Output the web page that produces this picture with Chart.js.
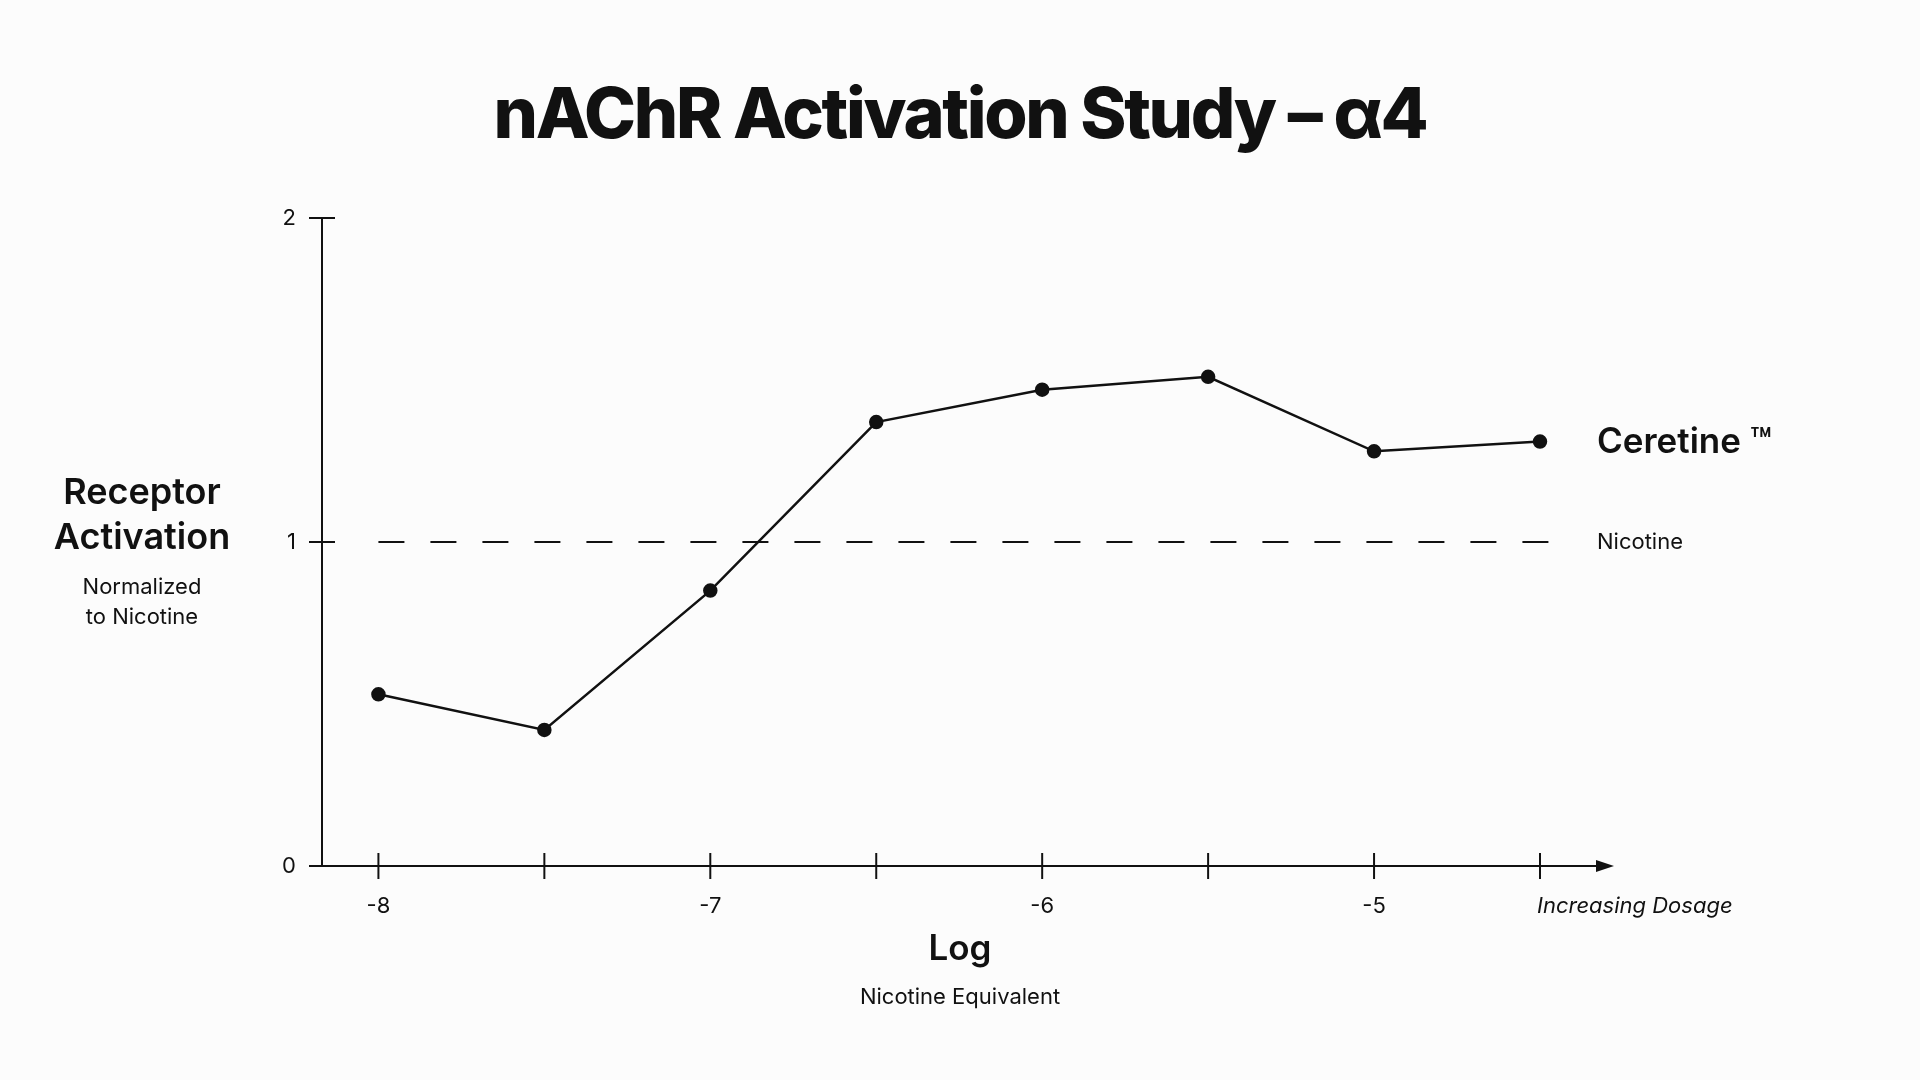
<!DOCTYPE html>
<html>
<head>
<meta charset="utf-8">
<script src="https://cdn.jsdelivr.net/npm/chart.js@4"></script>
<style>
  html, body { margin: 0; padding: 0; background: #fcfcfc; }
  #wrap { width: 1920px; height: 1080px; }
</style>
</head>
<body>
<div id="wrap"><canvas id="activationChart" width="1920" height="1080"></canvas></div>
<script>
// log dose positions and normalized activation for Ceretine
const doses = [-8, -7.5, -7, -6.5, -6, -5.5, -5, -4.5];
const ceretine = [0.53, 0.42, 0.85, 1.37, 1.47, 1.51, 1.28, 1.31];
const nicotineLevel = [1, 1];
const nicotineRange = [-8, -4.47];
const xTickValues = [-8, -7.5, -7, -6.5, -6, -5.5, -5, -4.5];
const xTickLabels = ["-8", "", "-7", "", "-6", "", "-5", ""];
const yTickValues = [0, 1, 2];
const yTickLabels = ["0", "1", "2"];

const ink = "#111111";
const fontName = "Inter, 'Noto Sans', sans-serif";

const axesPlugin = {
    id: "axesPlugin",
    afterDraw(chart) {
        const ctx = chart.ctx;
        const xs = chart.scales.x;
        const ys = chart.scales.y;
        const area = chart.chartArea;
        ctx.save();
        ctx.strokeStyle = ink;
        ctx.fillStyle = ink;
        ctx.lineWidth = 2;

        // y axis
        ctx.beginPath();
        ctx.moveTo(area.left, ys.getPixelForValue(2));
        ctx.lineTo(area.left, ys.getPixelForValue(0));
        ctx.stroke();

        // x axis with arrow
        const y0 = ys.getPixelForValue(0);
        ctx.beginPath();
        ctx.moveTo(area.left - 13, y0);
        ctx.lineTo(area.right - 12, y0);
        ctx.stroke();
        ctx.beginPath();
        ctx.moveTo(area.right, y0);
        ctx.lineTo(area.right - 18, y0 - 6);
        ctx.lineTo(area.right - 18, y0 + 6);
        ctx.closePath();
        ctx.fill();

        // y ticks
        ctx.font = "22px " + fontName;
        ctx.textAlign = "right";
        ctx.textBaseline = "middle";
        yTickValues.forEach((v, i) => {
            const py = ys.getPixelForValue(v);
            ctx.beginPath();
            ctx.moveTo(area.left - 13, py);
            ctx.lineTo(area.left + 13, py);
            ctx.stroke();
            ctx.fillText(yTickLabels[i], area.left - 26, py);
        });

        // x ticks
        ctx.textAlign = "center";
        xTickValues.forEach((v, i) => {
            const px = xs.getPixelForValue(v);
            ctx.beginPath();
            ctx.moveTo(px, y0 - 13);
            ctx.lineTo(px, y0 + 13);
            ctx.stroke();
            if (xTickLabels[i]) ctx.fillText(xTickLabels[i], px, y0 + 40);
        });
        ctx.font = "italic 22px " + fontName;
        ctx.textAlign = "left";
        ctx.fillText("Increasing Dosage", 1537, y0 + 40);

        // title
        ctx.font = "800 70px " + fontName;
        ctx.textAlign = "center";
        ctx.textBaseline = "alphabetic";
        const title = "nAChR Activation Study – α4";
        ctx.letterSpacing = "0px";
        const w = ctx.measureText(title).width;
        ctx.letterSpacing = ((935 - w) / (title.length - 1)).toFixed(2) + "px";
        ctx.fillText(title, 960, 138);
        ctx.letterSpacing = "0px";

        // y axis title
        ctx.textBaseline = "middle";
        ctx.font = "600 36px " + fontName;
        ctx.fillText("Receptor", 142, 493);
        ctx.fillText("Activation", 142, 538);
        ctx.font = "22px " + fontName;
        ctx.fillText("Normalized", 142, 587);
        ctx.fillText("to Nicotine", 142, 617);

        // x axis title
        ctx.font = "600 35px " + fontName;
        ctx.fillText("Log", 960, 949);
        ctx.font = "22px " + fontName;
        ctx.fillText("Nicotine Equivalent", 960, 997);

        // series labels
        ctx.textAlign = "left";
        ctx.font = "600 35px " + fontName;
        ctx.fillText("Ceretine ™", 1597, 442);
        ctx.font = "22px " + fontName;
        ctx.fillText("Nicotine", 1597, ys.getPixelForValue(1));
        ctx.restore();
    }
};

const activationConfig = {
    type: "line",
    data: {
        datasets: [
            {
                label: "Ceretine ™",
                data: doses.map((d, i) => ({ x: d, y: ceretine[i] })),
                borderColor: ink,
                backgroundColor: ink,
                borderWidth: 2.5,
                pointRadius: 6,
                pointHoverRadius: 6,
                tension: 0,
                clip: false,
            },
            {
                label: "Nicotine",
                data: nicotineRange.map((d, i) => ({ x: d, y: nicotineLevel[i] })),
                borderColor: ink,
                borderWidth: 2,
                borderDash: [26, 26],
                pointRadius: 0,
                clip: false,
            },
        ],
    },
    options: {
        responsive: false,
        animation: false,
        layout: {
            padding: { left: 322, right: 306, top: 218, bottom: 214 },
        },
        scales: {
            x: { type: "linear", min: -8.17, max: -4.277, display: false },
            y: { min: 0, max: 2, display: false },
        },
        plugins: {
            legend: { display: false },
            tooltip: { enabled: false },
        },
    },
    plugins: [axesPlugin],
};

const activationChart = new Chart(
    document.getElementById("activationChart"),
    activationConfig);
</script>
</body>
</html>
